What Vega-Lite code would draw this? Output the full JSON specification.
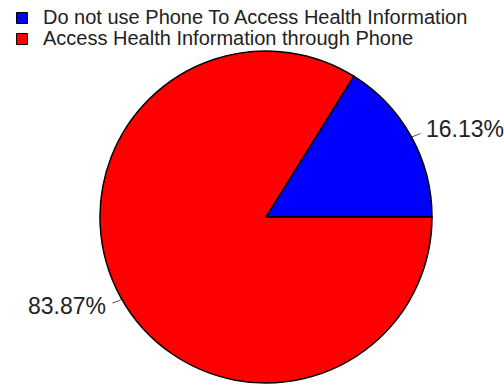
{
  "$schema": "https://vega.github.io/schema/vega-lite/v6.json",
  "width": 476,
  "height": 336,
  "autosize": {"type": "none"},
  "padding": {"left": 28, "top": 49, "right": 0, "bottom": 0},
  "background": "white",
  "config": {"view": {"stroke": null}},
  "data": {
    "values": [
      {"category": "Do not use Phone To Access Health Information", "percent": 16.13, "label": "16.13%"},
      {"category": "Access Health Information through Phone", "percent": 83.87, "label": "83.87%"}
    ]
  },
  "encoding": {
    "theta": {"field": "percent", "type": "quantitative", "stack": true, "scale": {"range": [1.5707963268, 7.8539816340]}},
    "order": {"field": "category", "type": "ordinal", "sort": "ascending"},
    "detail": {"field": "category", "type": "nominal"}
  },
  "layer": [
    {
      "mark": {"type": "arc", "outerRadius": 166, "stroke": "black", "strokeWidth": 1.5},
      "encoding": {
        "color": {
          "field": "category",
          "type": "nominal",
          "scale": {
            "domain": ["Do not use Phone To Access Health Information", "Access Health Information through Phone"],
            "range": ["#0000ff", "#ff0000"]
          },
          "legend": {
            "title": null,
            "orient": "none",
            "legendX": -16,
            "legendY": -41,
            "padding": 0,
            "symbolType": "square",
            "symbolSize": 121,
            "symbolStrokeColor": "black",
            "symbolStrokeWidth": 1,
            "labelFont": "Liberation Sans",
            "labelFontSize": 20,
            "labelColor": "#222222",
            "labelOffset": 11,
            "rowPadding": 1,
            "labelLimit": 600
          }
        }
      }
    },
    {
      "mark": {"type": "text", "radius": 171, "text": "—", "angle": 339, "fontSize": 10, "font": "Liberation Sans", "color": "#222222", "align": "center", "baseline": "middle", "dy": 1}
    },
    {
      "mark": {"type": "text", "radius": 183, "font": "Liberation Sans", "fontSize": 23, "color": "#222222", "align": "left", "baseline": "alphabetic", "dy": 8.5},
      "encoding": {"text": {"condition": {"test": "datum.percent < 50", "field": "label"}, "value": ""}}
    },
    {
      "mark": {"type": "text", "radius": 183, "font": "Liberation Sans", "fontSize": 23, "color": "#222222", "align": "right", "baseline": "alphabetic", "dy": 8.5},
      "encoding": {"text": {"condition": {"test": "datum.percent > 50", "field": "label"}, "value": ""}}
    }
  ]
}
